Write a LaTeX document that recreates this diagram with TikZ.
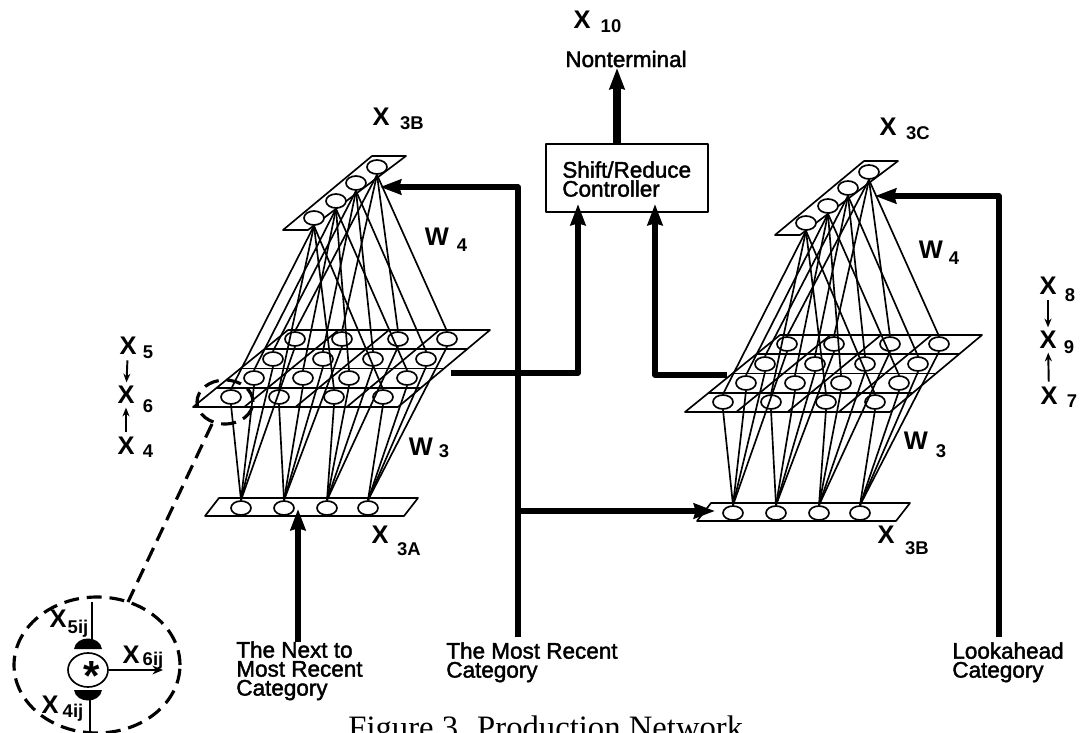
\documentclass[tikz,border=0pt]{standalone}
\usepackage{fontspec}
\setmainfont{Liberation Sans}[UprightFeatures={FakeBold=1.8}]
\newfontfamily\capfont{Liberation Serif}
\usepackage{tikz}
\usetikzlibrary{arrows.meta,shapes.geometric,calc}
\tikzset{
  every picture/.style={line join=round, >=Stealth},
  link/.style={line width=0.95pt},
  unit/.style={ellipse,draw,fill=white,line width=0.95pt,minimum width=0.4cm,minimum height=0.28cm,inner sep=0pt},
  feed/.style={line width=3pt,-{Stealth[length=12pt,width=8.5pt,inset=1pt]}},
  smallfeed/.style={line width=1.1pt,-{Stealth[length=5pt,width=4pt]},shorten >=2pt,shorten <=3pt},
  ring/.style={line width=1.8pt,dash pattern=on 8.5pt off 4.5pt},
  mainlab/.style={inner sep=0pt,font=\fontsize{14.5}{15}\selectfont\bfseries},
  sublab/.style={inner sep=0pt,font=\fontsize{10.5}{11}\selectfont\bfseries},
  catlab/.style={inner sep=0pt,anchor=north west,align=left,font=\fontsize{12.8}{10.8}\selectfont},
}
\begin{document}
\begin{tikzpicture}[x=0.02cm,y=-0.02cm]
\useasboundingbox (0,0) rectangle (1083,733);
% the two networks
\foreach \pre/\dx/\dy in {L-/0/0,R-/492/5}{
\begin{scope}[shift={(\dx,\dy)},name prefix=\pre]
\draw[link](283,230)--(308,230)--(406,156)--(372,156)--cycle;
\draw[link](205,516)--(404,516)--(418,498)--(219,498)--cycle;
\coordinate (a) at (193,407);
\coordinate (b) at (398,407);
\coordinate (c) at (490,330);
\coordinate (d) at (288,330);
\draw[link](a)--(b)--(c)--(d)--cycle;
\foreach \t in {0.25,0.5,0.75}{
  \draw[link]($(a)!\t!(d)$)--($(b)!\t!(c)$);
  \draw[link]($(a)!\t!(b)$)--($(d)!\t!(c)$);
}
\foreach \cc/\xx/\yy in {1/314/218,2/336/201,3/356/183,4/377/167}
  \node[unit] (top\cc) at (\xx,\yy) {};
\foreach \cc/\xx in {1/241,2/284,3/327,4/368}
  \node[unit] (low\cc) at (\xx,508) {};
\foreach \cc/\rr/\xx/\yy in {1/1/295/339,2/1/342/339,3/1/398/339,4/1/447/339,
  1/2/273/359,2/2/323/359,3/2/373/359,4/2/426/359,
  1/3/254/378,2/3/303/378,3/3/349/378,4/3/407/378,
  1/4/231/397,2/4/279/397,3/4/334/397,4/4/383/397}
  \node[unit] (mid\cc\rr) at (\xx,\yy) {};
\foreach \cc in {1,...,4}{
  \foreach \rr in {1,...,4}
    \draw[link](low\cc.north)--(mid\cc\rr.south);
  \foreach \tp/\rr in {1/4,2/3,3/2,4/1}
    \draw[link](top\tp.south)--(mid\cc\rr.north);
}
\end{scope}
}
% controller
\node[draw,line width=0.95pt,minimum width=3.24cm,minimum height=1.36cm,inner sep=0pt] (controller) at (627,178) {};
\node[catlab] (controllertext) at (562,161) {Shift/Reduce\\Controller};
\node[catlab,anchor=center] (nonterminal) at (626,59) {Nonterminal};
\coordinate (upA) at (617,144);
\coordinate (upB) at (617,68);
\draw[feed,line width=4.5pt] (upA)--(upB);
\coordinate (leftout) at (451,373);
\coordinate (leftin) at (578,204);
\draw[feed] (leftout)-|(leftin);
\coordinate (rightout) at (727,375);
\coordinate (rightin) at (655,204);
\draw[feed] (rightout)-|(rightin);
\coordinate (recent) at (518,637);
\coordinate (recentup) at (518,187);
\coordinate (recentin) at (380,187);
\coordinate (recentmid) at (518,511);
\coordinate (recentlow) at (715,511);
\draw[feed] (recent)--(recentup)--(recentin);
\draw[feed] (recentmid)--(recentlow);
\coordinate (look) at (999,637);
\coordinate (lookup) at (999,196);
\coordinate (lookin) at (875,196);
\draw[feed] (look)--(lookup)--(lookin);
\coordinate (nextnet) at (298,642);
\coordinate (nextin) at (298,509);
\draw[feed,line width=3.4pt] (nextnet)--(nextin);
% labels
\foreach \nm/\lt/\xx/\yy/\sb/\sx/\sy in {
  x10/X/582/20/10/611/26,xtop/X/381/117/3B/412/123,xtopr/X/888/127/3C/918/133,
  wfl/W/437/237/4/462/245,wfr/W/931/250/4/954/258,wtl/W/421/447/3/444/451,wtr/W/916/441/3/941/451,
  xa/X/380/535/3A/409/549,xb/X/886/535/3B/917/548,
  xfive/X/128/346/5/148/352,xsix/X/126/395/6/148/406,xfour/X/126/446/4/148/451,
  xeight/X/1048/286/8/1070/295,xnine/X/1048/340/9/1069/347,xseven/X/1049/396/7/1072/401}
{
  \node[mainlab] (\nm) at (\xx,\yy) {\lt};
  \node[sublab] (\nm sub) at (\sx,\sy) {\sb};
}
\draw[smallfeed] (xfive)--(xsix);
\draw[smallfeed] (xfour)--(xsix);
\draw[smallfeed] (xeight)--(xnine);
\draw[smallfeed] (xseven)--(xnine);
\node[catlab] (nextlab) at (236,641) {The Next to\\Most Recent\\Category};
\node[catlab] (recentlab) at (446,642) {The Most Recent\\Category};
\node[catlab] (looklab) at (952,642) {Lookahead\\Category};
\node[inner sep=0pt,anchor=base west,font=\fontsize{18.6}{20}\selectfont\capfont] (caption) at (348,738) {Figure 3. Production Network};
% inset
\node[ellipse,draw,ring,minimum width=1.12cm,minimum height=0.88cm,inner sep=0pt] (spot) at (225,402) {};
\node[ellipse,draw,ring,minimum width=3.32cm,minimum height=2.72cm,inner sep=0pt] (zoomring) at (97,665) {};
\coordinate (spotend) at (212,424);
\coordinate (ringend) at (128,602);
\draw[ring] (spotend)--(ringend);
\node[ellipse,draw,line width=0.95pt,minimum width=0.8cm,minimum height=0.68cm,inner sep=0pt] (cell) at (88,670) {};
\node[inner sep=0pt,font=\fontsize{24}{24}\selectfont\bfseries] (star) at (92,676) {*};
\fill (74,649)..controls (76,635) and (100,635)..(102,649)--cycle;
\fill (74,690)..controls (76,704) and (100,704)..(102,690)--cycle;
\coordinate (fivetop) at (92,602);
\coordinate (fivebot) at (92,640);
\coordinate (fourtop) at (90,700);
\coordinate (fourbot) at (90,732);
\coordinate (sixend) at (163,670);
\draw[link] (fivetop)--(fivebot);
\draw[link] (fourtop)--(fourbot);
\draw[link,-{Stealth[length=6pt,width=5pt]}] (cell)--(sixend);
\foreach \nm/\xx/\yy/\sb/\sx/\sy in {xfiveij/58/619/5ij/78/629,xsixij/131/655/6ij/153/661,xfourij/50/705/4ij/73/713}
{
  \node[mainlab] (\nm) at (\xx,\yy) {X};
  \node[sublab] (\nm sub) at (\sx,\sy) {\sb};
}
\end{tikzpicture}
\end{document}
